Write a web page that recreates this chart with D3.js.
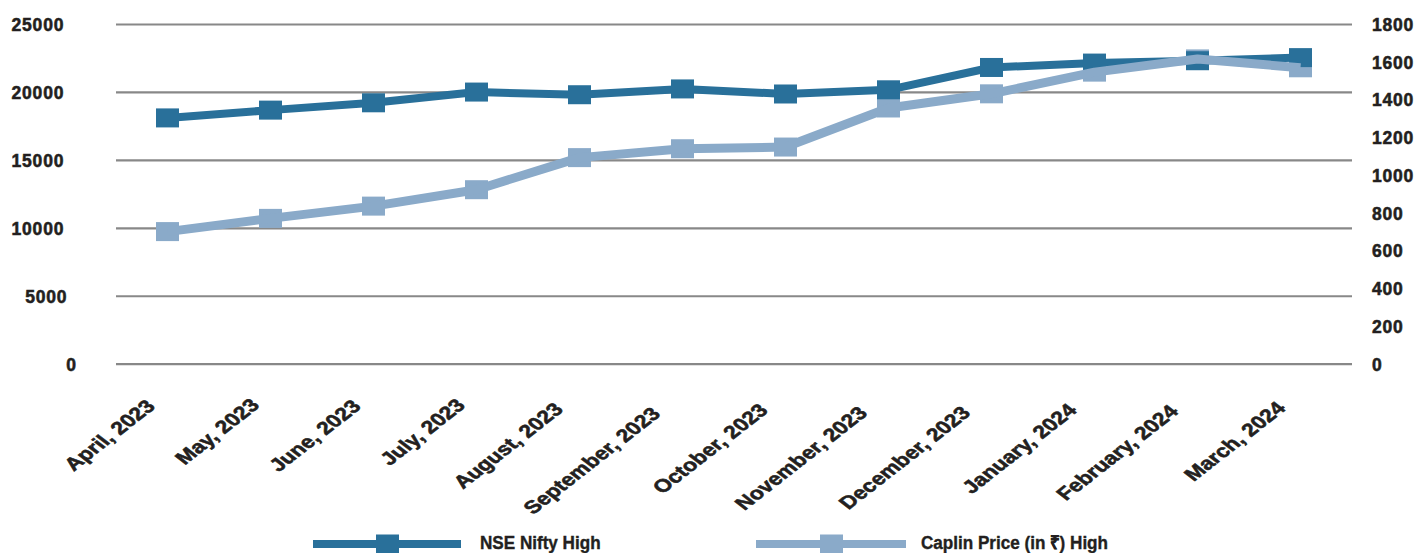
<!DOCTYPE html>
<html>
<head>
<meta charset="utf-8">
<script src="https://cdn.jsdelivr.net/npm/d3@7"></script>
<style>
  html, body { margin: 0; padding: 0; background: #fff; }
  svg { display: block; }
</style>
</head>
<body>
<svg id="chart" width="1419" height="553"></svg>
<script>
// ---- data ----
const months = ["April, 2023","May, 2023","June, 2023","July, 2023","August, 2023","September, 2023",
                "October, 2023","November, 2023","December, 2023","January, 2024","February, 2024","March, 2024"];
const niftyHigh  = [18089, 18662, 19201, 19991, 19795, 20222, 19849, 20158, 21801, 22124, 22297, 22526];
const caplinHigh = [700, 770, 835, 922, 1092, 1139, 1148, 1355, 1430, 1545, 1615, 1568];
const leftTicks  = [0, 5000, 10000, 15000, 20000, 25000];
const rightTicks = [0, 200, 400, 600, 800, 1000, 1200, 1400, 1600, 1800];
const seriesNames = ["NSE Nifty High", "Caplin Price (in \u20B9) High"];

// ---- layout / style ----
const W = 1419, H = 553;
const plot = { left: 116, right: 1352, top: 24, bottom: 363.7 };
const darkC = "#29709a", lightC = "#8aaac9", gridC = "#888888", textC = "#231f20";
const mW = 23, mH = 19;
const stretch = 1.28;
const fontMain = "'Liberation Sans', Arial, sans-serif";

const svg = d3.select("#chart");

const x = d3.scaleBand().domain(months).range([plot.left, plot.right]).padding(0);
const yL = d3.scaleLinear().domain([0, 25000]).range([plot.bottom, plot.top]);
const yR = d3.scaleLinear().domain([0, 1800]).range([plot.bottom, plot.top]);
const cx = m => x(m) + x.bandwidth() / 2;

function heavy(sel, size) {
  sel.attr("font-family", fontMain).attr("font-weight", "bold").attr("font-size", size)
     .attr("fill", textC).attr("stroke", textC).attr("stroke-width", 0.55);
}

// gridlines (left axis ticks)
const gLeft = svg.append("g").call(
  d3.axisLeft(yL).tickValues(leftTicks).tickSize(-(plot.right - plot.left)).tickFormat(d => d)
).attr("transform", `translate(${plot.left},0)`);
gLeft.select(".domain").remove();
gLeft.selectAll(".tick line").attr("stroke", gridC).attr("stroke-width", 2.2);
gLeft.selectAll(".tick text")
  .call(heavy, 17.5).attr("letter-spacing", 0.8)
  .attr("dy", null).attr("y", 6.5)
  .attr("text-anchor", "start")
  .each(function () {
    const L = this.getComputedTextLength();
    d3.select(this).attr("x", (80 - plot.left) - 1.3 * L);
  });

// right axis labels
const gRight = svg.append("g").call(d3.axisRight(yR).tickValues(rightTicks).tickSize(0).tickFormat(d => d))
  .attr("transform", `translate(${plot.right},0)`);
gRight.select(".domain").remove();
gRight.selectAll(".tick text")
  .call(heavy, 17.5).attr("letter-spacing", 0.8)
  .attr("dy", null).attr("y", 6.5).attr("x", 1372 - plot.right)
  .attr("text-anchor", "start");

// x axis labels (rotated, horizontally stretched like the reference)
const gX = svg.append("g");
gX.selectAll("text").data(months).enter().append("text")
  .attr("transform", d => `translate(${cx(d)},398.5) scale(${stretch},1) rotate(-45)`)
  .attr("text-anchor", "end")
  .call(heavy, 18)
  .text(d => d)
  .each(function () {
    const L = this.getComputedTextLength();
    d3.select(this).attr("x", -(0.21 * L - 6.6));
  });

// lines
const lineL = d3.line().x((d, i) => cx(months[i])).y(d => yL(d));
const lineR = d3.line().x((d, i) => cx(months[i])).y(d => yR(d));

svg.append("path").datum(niftyHigh).attr("d", lineL)
  .attr("fill", "none").attr("stroke", darkC).attr("stroke-width", 8).attr("stroke-linejoin", "round");

svg.append("g").selectAll("rect").data(caplinHigh).enter().append("rect")
  .attr("x", (d, i) => cx(months[i]) - mW / 2).attr("y", d => yR(d) - mH / 2)
  .attr("width", mW).attr("height", mH).attr("fill", lightC);

svg.append("g").selectAll("rect").data(niftyHigh).enter().append("rect")
  .attr("x", (d, i) => cx(months[i]) - mW / 2).attr("y", d => yL(d) - mH / 2)
  .attr("width", mW).attr("height", mH).attr("fill", darkC);

svg.append("path").datum(caplinHigh).attr("d", lineR)
  .attr("fill", "none").attr("stroke", lightC).attr("stroke-width", 9).attr("stroke-linejoin", "round");

// legend
const legendItems = [
  { name: seriesNames[0], color: darkC, x0: 313, x1: 461, tx: 480 },
  { name: seriesNames[1], color: lightC, x0: 756, x1: 906, tx: 921 }
];
const legY = 544;
const lg = svg.append("g").selectAll("g").data(legendItems).enter().append("g");
lg.append("line")
  .attr("x1", d => d.x0).attr("x2", d => d.x1).attr("y1", legY).attr("y2", legY)
  .attr("stroke", d => d.color).attr("stroke-width", 8);
lg.append("rect")
  .attr("x", d => (d.x0 + d.x1) / 2 - mW / 2 + 0.5).attr("y", legY - mH / 2)
  .attr("width", mW).attr("height", mH).attr("fill", d => d.color);
lg.append("text")
  .attr("transform", d => `translate(${d.tx},549) scale(0.9,1)`)
  .call(heavy, 19).attr("stroke-width", 0.4)
  .text(d => d.name);
</script>
</body>
</html>
